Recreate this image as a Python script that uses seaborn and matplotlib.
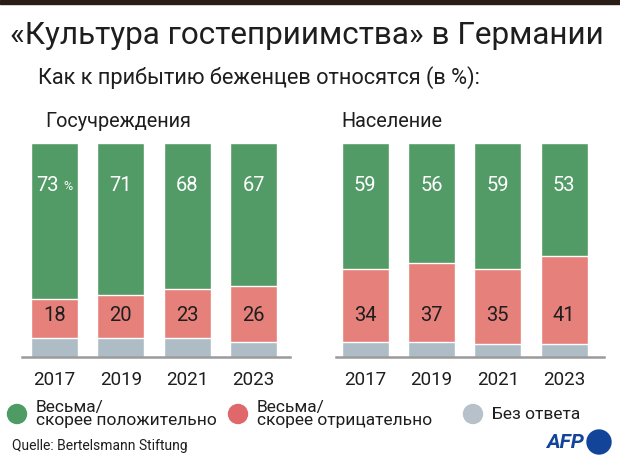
import numpy as np
import pandas as pd
import matplotlib.pyplot as plt
import matplotlib.patches as mpatches
import seaborn as sns

# ==========================================================
# Data
# ==========================================================

years = ["2017", "2019", "2021", "2023"]

gov_pos = [73, 71, 68, 67]
gov_neg = [18, 20, 23, 26]
gov_na = [9, 9, 9, 7]

pop_pos = [59, 56, 59, 53]
pop_neg = [34, 37, 35, 41]
pop_na = [7, 7, 6, 6]

panel_titles = ["Госучреждения", "Население"]
legend_labels = ["Весьма/\nскорее положительно", "Весьма/\nскорее отрицательно", "Без ответа"]

green = "#529b66"
red = "#e5807b"
grey = "#aebcc5"
text_col = "#1e1e1e"

sns.set_theme(style="white")
plt.rcParams["font.family"] = ["Roboto", "DejaVu Sans"]

fig = plt.figure(figsize=(6.2, 4.65), dpi=100)
W, H = 620, 465


def px_axes(x, y, w, h):
    # axes placed with pixel coords measured from top-left
    return fig.add_axes([x / W, 1 - (y + h) / H, w / W, h / H])


def stacked(ax, pos, neg, na, xlim, pct=False):
    df = pd.DataFrame({"year": years, "pos": pos, "neg": neg, "na": na})
    df["total"] = df["pos"] + df["neg"] + df["na"]
    df["low"] = df["neg"] + df["na"]
    sns.barplot(data=df, x="year", y="total", color=green, width=0.71, saturation=1, ax=ax)
    sns.barplot(data=df, x="year", y="low", color=red, width=0.71, saturation=1, ax=ax)
    sns.barplot(data=df, x="year", y="na", color=grey, width=0.71, saturation=1, ax=ax)
    ax.set_xlim(*xlim)
    ax.set_ylim(0, 100)
    ax.set_xlabel("")
    ax.set_ylabel("")
    ax.set_yticks([])
    for s in ["top", "left", "right"]:
        ax.spines[s].set_visible(False)
    ax.spines["bottom"].set_color("#9a9a9a")
    ax.spines["bottom"].set_linewidth(1.8)
    ax.tick_params(axis="x", length=0, pad=10, labelsize=13.5, labelcolor=text_col)
    for i, (p, n) in enumerate(zip(pos, neg)):
        if pct and i == 0:
            ax.text(i - 0.1, 80, str(p), ha="center", va="center", color="white", fontsize=14.5)
            ax.text(i + 0.2, 79.5, "%", ha="center", va="center", color="white", fontsize=9)
        else:
            ax.text(i, 80, str(p), ha="center", va="center", color="white", fontsize=14.5)
        ax.text(i, 19.5, str(n), ha="center", va="center", color=text_col, fontsize=14.5)


ax1 = px_axes(22, 143, 268, 214)
stacked(ax1, gov_pos, gov_neg, gov_na, (-0.49, 3.55), pct=True)

ax2 = px_axes(336, 143, 268, 214)
stacked(ax2, pop_pos, pop_neg, pop_na, (-0.44, 3.6))

# ==========================================================
# Texts
# ==========================================================

fig.patches.append(mpatches.Rectangle((0, 1 - 4 / H), 1, 4 / H, transform=fig.transFigure,
                                      color="#2a1d15", zorder=5))

fig.text(10 / W, 1 - 36 / H, "«Культура гостеприимства» в Германии", fontsize=22.7,
         color=text_col, va="center", ha="left")
fig.text(38 / W, 1 - 78 / H, "Как к прибытию беженцев относятся (в %):", fontsize=15.7,
         color=text_col, va="center", ha="left")
fig.text(45 / W, 1 - 121 / H, panel_titles[0], fontsize=14.3, color=text_col, va="center")
fig.text(341 / W, 1 - 121 / H, panel_titles[1], fontsize=14.3, color=text_col, va="center")

# legend
leg_cols = ["#4e9b63", "#e0686a", "#b6c1c9"]
leg_x = [17, 238, 473]
for c, x, lab in zip(leg_cols, leg_x, legend_labels):
    fig.patches.append(mpatches.Ellipse((x / W, 1 - 414 / H), 19 / W, 19 / H,
                                        transform=fig.transFigure, color=c))
    fig.text((x + 19) / W, 1 - 414 / H, lab, fontsize=12.5, color=text_col,
             va="center", ha="left", linespacing=0.9)

fig.text(12 / W, 1 - 446 / H, "Quelle: Bertelsmann Stiftung", fontsize=10,
         color=text_col, va="center", ha="left")

# AFP logo
fig.text(584 / W, 1 - 442 / H, "AFP", fontsize=15, fontweight="bold", style="italic",
         color="#12449a", va="center", ha="right")
fig.patches.append(mpatches.Ellipse((599 / W, 1 - 442 / H), 24 / W, 24 / H,
                                    transform=fig.transFigure, color="#12449a"))

fig.savefig("out.png", dpi=100)
